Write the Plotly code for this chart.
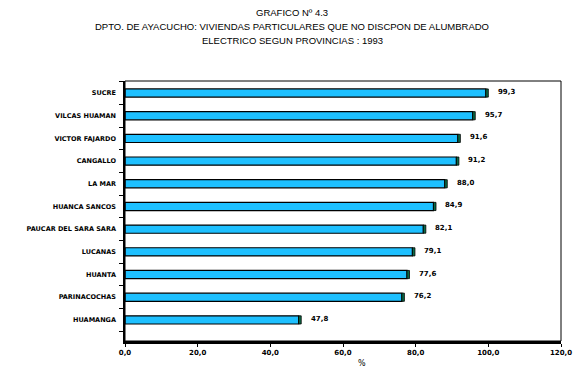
import plotly.graph_objects as go

provincias = ["SUCRE", "VILCAS HUAMAN", "VICTOR FAJARDO", "CANGALLO", "LA MAR",
              "HUANCA SANCOS", "PAUCAR DEL SARA SARA", "LUCANAS", "HUANTA",
              "PARINACOCHAS", "HUAMANGA"]
valores = [99.3, 95.7, 91.6, 91.2, 88.0, 84.9, 82.1, 79.1, 77.6, 76.2, 47.8]
etiquetas = ["99,3", "95,7", "91,6", "91,2", "88,0", "84,9", "82,1", "79,1", "77,6", "76,2", "47,8"]
xticks = [0, 20, 40, 60, 80, 100, 120]
xticktext = ["0,0", "20,0", "40,0", "60,0", "80,0", "100,0", "120,0"]
titulos = ["GRAFICO Nº 4.3",
           "DPTO. DE AYACUCHO: VIVIENDAS PARTICULARES QUE NO DISCPON DE ALUMBRADO",
           "ELECTRICO SEGUN PROVINCIAS : 1993"]

# bottom-to-top order for plotting
cats = provincias[::-1]
vals = valores[::-1]
labs = etiquetas[::-1]

fig = go.Figure()
fig.add_trace(go.Bar(
    y=cats, x=vals, orientation="h", width=0.36,
    marker=dict(color="#1EC0FF", line=dict(color="black", width=1.2)),
    hoverinfo="skip", showlegend=False,
))
fig.add_trace(go.Bar(
    y=cats, x=[0.7] * len(vals), base=vals, orientation="h", width=0.36,
    marker=dict(color="#0B6B45", line=dict(color="black", width=0.8)),
    hoverinfo="skip", showlegend=False,
))
for c, v, t in zip(cats, vals, labs):
    fig.add_annotation(x=v, y=c, text=t, showarrow=False, xanchor="left",
                       xshift=10, yshift=1,
                       font=dict(family="DejaVu Sans", size=7, color="black", weight="bold"))

for i, t in enumerate(titulos):
    fig.add_annotation(xref="paper", yref="paper", x=(292 - 125) / 436, y=1,
                       xanchor="center", yanchor="middle", yshift=81 - 12 - 14 * i,
                       text=t, showarrow=False,
                       font=dict(family="Liberation Sans", size=9.5, color="black"))

fig.add_annotation(xref="paper", yref="paper", x=(362 - 125) / 436, y=0,
                   xanchor="center", yanchor="middle", yshift=-22,
                   text="%", showarrow=False,
                   font=dict(family="DejaVu Sans", size=8, color="black"))

# thin frame around the plot area (top/right)
fig.add_shape(type="rect", xref="paper", yref="paper", x0=0, x1=1, y0=0, y1=1,
              line=dict(color="black", width=1), layer="above")

# page body has an 8px margin; compensate
fig.update_layout(
    width=569, height=365,
    margin=dict(l=117, r=16, t=73, b=32, autoexpand=False),
    paper_bgcolor="white", plot_bgcolor="white",
    barmode="overlay",
    xaxis=dict(
        range=[0, 120], tickvals=xticks, ticktext=xticktext,
        showgrid=False, zeroline=False, automargin=False,
        showline=True, linecolor="black", linewidth=2.5, mirror=False,
        ticks="outside", ticklen=3, tickcolor="black",
        tickfont=dict(family="DejaVu Sans", size=7, color="black", weight="bold"),
    ),
    yaxis=dict(
        type="category", categoryorder="array", categoryarray=cats,
        range=[-0.93, 10.53], automargin=False,
        showgrid=False, zeroline=False,
        showline=True, linecolor="black", linewidth=1.5, mirror=False,
        ticks="outside", ticklen=4, tickcolor="black", tickson="boundaries",
        tickfont=dict(family="DejaVu Sans", size=6.5, color="black", weight="bold"),
        ticklabelstandoff=6,
    ),
)
fig.write_html("out.html")
